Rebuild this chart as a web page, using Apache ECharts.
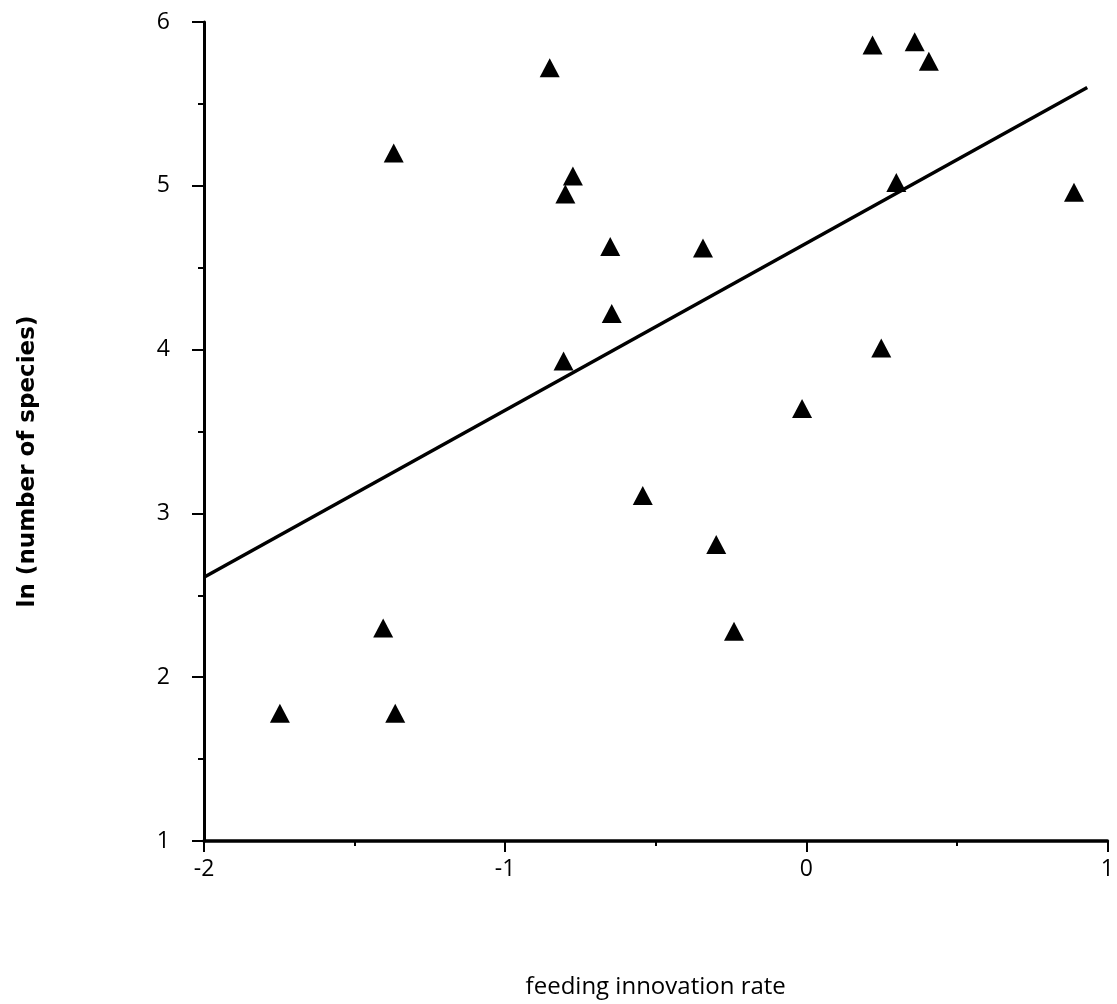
<!DOCTYPE html>
<html>
<head>
<meta charset="utf-8">
<title>feeding innovation rate</title>
<script src="https://cdn.jsdelivr.net/npm/echarts@6/dist/echarts.min.js"></script>
<style>
  html, body { margin: 0; padding: 0; background: #fff; }
  #chart { width: 1117px; height: 1004px; }
</style>
</head>
<body>
<div id="chart"></div>
<script>
// points
const innovationRate = [-1.37, -0.852, -0.775, -0.80, -0.651, -0.646, -0.806, 0.22, 0.36, 0.407, 0.299,
  0.889, -0.343, 0.249, -1.405, -1.748, -1.365, -0.014, -0.543, -0.299, -0.240]
const lnSpecies = [5.20, 5.72, 5.06, 4.95, 4.63, 4.22, 3.93, 5.86, 5.88, 5.76, 5.02,
  4.96, 4.62, 4.01, 2.30, 1.78, 1.78, 3.64, 3.11, 2.81, 2.28]

// regression line end points
const fitX = [-2, 0.933]
const fitY = [2.61, 5.60]

const xTicks = [-2, -1, 0, 1]
const yTicks = [1, 2, 3, 4, 5, 6]

const myChart = echarts.init(document.getElementById('chart'))

const labelFont = { color: '#000', fontSize: 23, fontFamily: 'Open Sans' }

const option = {
  backgroundColor: '#fff',
  animation: false,
  grid: { left: 204, right: 6, top: 22, bottom: 163 },
  xAxis: {
    type: 'value',
    min: xTicks[0],
    max: xTicks[xTicks.length - 1],
    interval: 1,
    name: 'feeding innovation rate',
    nameLocation: 'middle',
    nameGap: 134,
    nameTextStyle: { color: '#000', fontSize: 24, fontFamily: 'Open Sans' },
    axisLine: { onZero: false, lineStyle: { color: '#000', width: 3.5 } },
    axisTick: { inside: false, length: 11, lineStyle: { color: '#000', width: 2 } },
    minorTick: { show: true, splitNumber: 2, length: 5, lineStyle: { color: '#000', width: 2 } },
    axisLabel: Object.assign({ margin: 17 }, labelFont),
    splitLine: { show: false }
  },
  yAxis: {
    type: 'value',
    min: yTicks[0],
    max: yTicks[yTicks.length - 1],
    interval: 1,
    name: 'ln (number of species)',
    nameLocation: 'middle',
    nameGap: 164,
    nameRotate: 90,
    nameTextStyle: { color: '#000', fontSize: 23, fontWeight: 'bold', fontFamily: 'DejaVu Sans', padding: [0, 60, 0, 0] },
    axisLine: { onZero: false, lineStyle: { color: '#000', width: 3 } },
    axisTick: { length: 12, lineStyle: { color: '#000', width: 2 } },
    minorTick: { show: true, splitNumber: 2, length: 6, lineStyle: { color: '#000', width: 2 } },
    axisLabel: Object.assign({ margin: 34 }, labelFont),
    splitLine: { show: false }
  },
  series: [
    {
      name: 'fit',
      type: 'line',
      data: fitX.map((x, i) => [x, fitY[i]]),
      showSymbol: false,
      lineStyle: { color: '#000', width: 3.5 },
      z: 2
    },
    {
      name: 'families',
      type: 'scatter',
      symbol: 'triangle',
      symbolSize: [20, 19],
      itemStyle: { color: '#000', opacity: 1 },
      data: innovationRate.map((x, i) => [x, lnSpecies[i]]),
      z: 3
    }
  ]
}

myChart.setOption(option)
</script>
</body>
</html>
